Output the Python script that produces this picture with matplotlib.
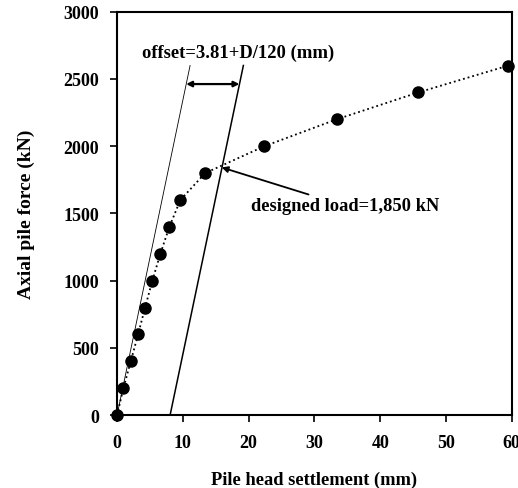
import numpy as np
import matplotlib.pyplot as plt

# measured load-settlement points
settlement = [0, 0.96, 2.08, 3.19, 4.26, 5.36, 6.58, 7.95, 9.62, 13.4, 22.4, 33.4, 45.8, 59.5]
load = [0, 200, 400, 600, 800, 1000, 1200, 1400, 1600, 1800, 2000, 2200, 2400, 2600]

# elastic line and offset line (Davisson)
elastic_x = [0, 11.1]
elastic_y = [0, 2600]
offset_x = [8.06, 19.2]
offset_y = [0, 2600]

xticks = [0, 10, 20, 30, 40, 50, 60]
yticks = [0, 500, 1000, 1500, 2000, 2500, 3000]

plt.rcParams['font.family'] = ['Liberation Serif', 'DejaVu Serif']
plt.rcParams['font.weight'] = 'bold'

fig = plt.figure(figsize=(5.18, 4.89), dpi=100)
ax = fig.add_axes([0.226, 0.149, 0.762, 0.825])

ax.plot(elastic_x, elastic_y, color='black', lw=0.6)
ax.plot(offset_x, offset_y, color='black', lw=1.1)
ax.plot(settlement, load, color='black', ls=':', lw=1.3, marker='o', ms=8,
        clip_on=False, zorder=3)

ax.annotate('', xy=(10.5, 2462), xytext=(18.6, 2462),
            arrowprops=dict(arrowstyle='<|-|>', color='black', lw=1.6,
                            mutation_scale=8, shrinkA=0, shrinkB=0))
ax.text(3.85, 2698, 'offset=3.81+D/120 (mm)', fontsize=13.4, fontweight='bold',
        va='center', ha='left')
ax.annotate('designed load=1,850 kN', xy=(15.9, 1842), xytext=(20.3, 1557),
            fontsize=13.3, fontweight='bold', va='center', ha='left',
            arrowprops=dict(arrowstyle='-|>', color='black', lw=1.3,
                            mutation_scale=9, shrinkA=0, shrinkB=0))

ax.set_xlim(0, 60)
ax.set_ylim(0, 3000)
ax.set_xticks(xticks)
ax.set_yticks(yticks)
ax.tick_params(direction='out', length=5, width=1.2, labelsize=13)
ax.tick_params(axis='x', pad=8.5)
ax.tick_params(axis='y', pad=8)
for lab in ax.get_xticklabels() + ax.get_yticklabels():
    lab.set_fontweight('bold')
for sp in ax.spines.values():
    sp.set_linewidth(1.5)

ax.set_xlabel('Pile head settlement (mm)', fontsize=13.3, fontweight='bold', labelpad=14)
ax.set_ylabel('Axial pile force (kN)', fontsize=14, fontweight='bold', labelpad=20)

fig.savefig('out.png', dpi=100)
